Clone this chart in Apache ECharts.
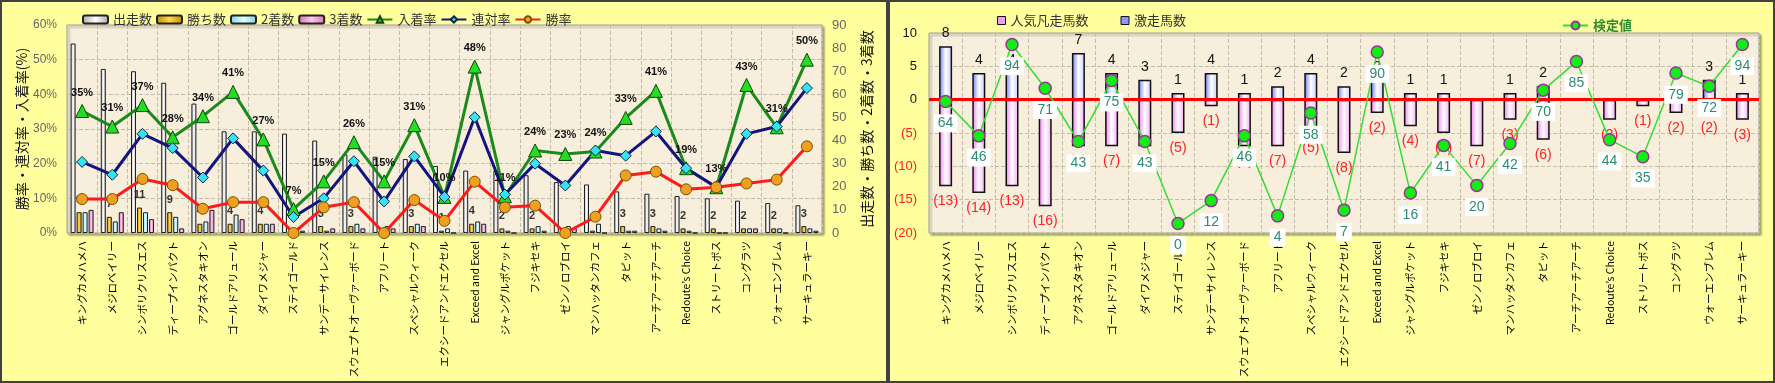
<!DOCTYPE html>
<html><head><meta charset="utf-8">
<script src="https://cdn.jsdelivr.net/npm/echarts@6/dist/echarts.min.js"></script>
<style>html,body{margin:0;padding:0;background:#ffff9e;}#c{width:1775px;height:383px;}</style>
</head><body><div id="c"></div>
<script>
var categories = ['キングカメハメハ','メジロベイリー','シンボリクリスエス','ディープインパクト','アグネスタキオン','ゴールドアリュール','ダイワメジャー','ステイゴールド','サンデーサイレンス','スウェプトオーヴァーボード','アフリート','スペシャルウィーク','エクシードアンドエクセル','Exceed and Excel','ジャングルポケット','フジキセキ','ゼンノロブロイ','マンハッタンカフェ','タピット','アーチアーチアーチ','Redoute’s Choice','ストリートボス','コングラツ','ウォーエンブレム','サーキュラーキー'];

// left chart: counts
var runs   = [82, 71, 70, 65, 56, 44, 44, 43, 40, 34, 33, 32, 29, 27, 27, 25, 22, 21, 18, 17, 16, 15, 14, 13, 12];
var wins   = [9, 7, 11, 9, 4, 4, 4, 0, 3, 3, 0, 3, 1, 4, 2, 2, 0, 1, 3, 3, 2, 2, 2, 2, 3];
var second = [9, 5, 9, 7, 5, 8, 4, 2, 1, 4, 3, 4, 2, 5, 1, 3, 3, 4, 1, 2, 1, 0, 2, 2, 2];
var third  = [10, 9, 6, 2, 10, 6, 4, 1, 2, 2, 2, 3, 0, 4, 0, 1, 2, 0, 1, 1, 0, 0, 2, 0, 1];
// left chart: rates (%)
var winRate    = [9.8, 9.8, 15.6, 13.8, 7.0, 8.9, 8.9, 0, 7.4, 8.9, 0, 9.5, 3.5, 14.8, 7.4, 7.9, 0, 4.7, 16.6, 17.7, 12.6, 13.2, 14.3, 15.4, 25.0];
var rentaiRate = [20.5, 16.8, 28.6, 24.5, 16.0, 27.3, 18.0, 4.6, 10.0, 20.7, 9.1, 22.1, 10.4, 33.4, 11.1, 20.0, 13.7, 23.8, 22.3, 29.3, 18.7, 13.2, 28.6, 30.7, 41.8];
var placeRate  = [35.2, 30.7, 36.9, 27.6, 33.7, 40.7, 27.0, 6.9, 14.9, 26.2, 14.9, 31.1, 10.4, 48.0, 10.6, 23.8, 22.8, 23.5, 33.2, 41.0, 18.7, 13.2, 42.7, 30.5, 50.0];

// right chart
var gekiso  = [8, 4, 4, 0, 7, 4, 3, 1, 4, 1, 2, 4, 2, 3, 1, 1, 0, 1, 2, 0, 0, 0, 0, 3, 1];
var bonso   = [-13, -14, -13, -16, -7, -7, -7, -5, -1, -7, -7, -5, -8, -2, -4, -5, -7, -3, -6, 0, -3, -1, -2, -2, -3];
var kentei  = [64, 46, 94, 71, 43, 75, 43, 0, 12, 46, 4, 58, 7, 90, 16, 41, 20, 42, 70, 85, 44, 35, 79, 72, 94];

var leftTicksPct = {min: 0, max: 60, interval: 10};
var rightTicksCnt = {min: 0, max: 90, interval: 10};
var rTicks = {min: -20, max: 10, interval: 5};

function hg(edge, mid, edge2) {
  return {type: 'linear', x: 0, y: 0, x2: 1, y2: 0,
    colorStops: [{offset: 0, color: edge}, {offset: 0.5, color: mid}, {offset: 1, color: edge2 || edge}]};
}
var FONT = "'Liberation Sans', 'Noto Sans CJK JP', sans-serif";
var JP = "'Noto Sans CJK JP', sans-serif";
var chart = echarts.init(document.getElementById('c'), null, {renderer: 'canvas'});
var dash = {type: 'dashed', color: '#c4bcaa', width: 1};
var gridStyle = {show: true, containLabel: false, outerBoundsMode: 'none', backgroundColor: '#f7eedc', borderColor: '#9a9a9a', borderWidth: 1,
  shadowColor: 'rgba(0,0,0,0.35)', shadowBlur: 2, shadowOffsetX: 2, shadowOffsetY: 2};
var xLabel = {rotate: 90, interval: 0, color: '#000', fontSize: 10.5, margin: 8, fontFamily: JP};

var option = {
  animation: false,
  textStyle: {fontFamily: FONT},
  graphic: [
    {type: 'rect', shape: {x: 1, y: 1, width: 886, height: 381}, style: {fill: '#ffff9e', stroke: '#404040', lineWidth: 2}, z: -10},
    {type: 'rect', shape: {x: 889, y: 1, width: 885, height: 381}, style: {fill: '#ffff9e', stroke: '#404040', lineWidth: 2}, z: -10}
  ],
  legend: [
    {data: ['出走数','勝ち数','2着数','3着数','入着率','連対率','勝率'], left: 77, top: 8, itemWidth: 25, itemHeight: 8, itemGap: 4,
      textStyle: {fontSize: 13, color: '#333', fontFamily: JP}},
    {data: [{name: '人気凡走馬数', itemStyle: {color: '#f09cf0', borderColor: '#111', borderWidth: 1}},
            {name: '激走馬数', itemStyle: {color: '#8a96ff', borderColor: '#111', borderWidth: 1}}],
      left: 992, top: 9, itemWidth: 8, itemHeight: 8, itemGap: 32, icon: 'rect',
      textStyle: {fontSize: 13, color: '#333', fontFamily: JP}},
    {data: ['検定値'], left: 1557, top: 14, itemWidth: 25, itemHeight: 10,
      textStyle: {fontSize: 13, color: '#2f8a2f', fontWeight: 'bold', fontFamily: JP}}
  ],
  grid: [
    Object.assign({left: 67, right: 953, top: 25, bottom: 150}, gridStyle),
    Object.assign({left: 929, right: 16, top: 33, bottom: 150}, gridStyle)
  ],
  xAxis: [
    {type: 'category', gridIndex: 0, data: categories, axisTick: {show: false}, axisLine: {show: false},
      axisLabel: xLabel, splitLine: {show: true, interval: 0, lineStyle: dash},
      name: 'BMS', nameLocation: 'middle', nameGap: 132, nameTextStyle: {color: '#777', fontSize: 12}},
    {type: 'category', gridIndex: 1, data: categories, axisTick: {show: false}, axisLine: {show: false},
      axisLabel: xLabel, splitLine: {show: true, interval: 0, lineStyle: dash},
      name: 'BMS', nameLocation: 'middle', nameGap: 133, nameTextStyle: {color: '#777', fontSize: 12}}
  ],
  yAxis: [
    {type: 'value', gridIndex: 0, min: leftTicksPct.min, max: leftTicksPct.max, interval: leftTicksPct.interval,
      axisLabel: {formatter: '{value}%', color: '#666', fontSize: 12, margin: 10}, axisLine: {show: false}, axisTick: {show: false},
      splitLine: {show: true, lineStyle: dash},
      name: '勝率・連対率・入着率(%)', nameLocation: 'middle', nameGap: 38, nameRotate: 90,
      nameTextStyle: {color: '#111', fontSize: 14, fontFamily: JP}},
    {type: 'value', gridIndex: 0, position: 'right', min: rightTicksCnt.min, max: rightTicksCnt.max, interval: rightTicksCnt.interval,
      axisLabel: {color: '#666', fontSize: 13, margin: 10}, axisLine: {show: false}, axisTick: {show: false}, splitLine: {show: false},
      name: '出走数・勝ち数・2着数・3着数', nameLocation: 'middle', nameGap: 38, nameRotate: 90,
      nameTextStyle: {color: '#111', fontSize: 14, fontFamily: JP}},
    {type: 'value', gridIndex: 1, min: rTicks.min, max: rTicks.max, interval: rTicks.interval,
      axisLine: {show: false}, axisTick: {show: false}, splitLine: {show: true, lineStyle: dash},
      axisLabel: {margin: 12, formatter: function (v) { return v < 0 ? '{r|(' + (-v) + ')}' : '{b|' + v + '}'; },
        rich: {r: {color: '#ff2020', fontSize: 13}, b: {color: '#111', fontSize: 13}}}},
    {type: 'value', gridIndex: 1, min: -5, max: 100, show: false, splitLine: {show: false}}
  ],
  series: [
    {name: '出走数', type: 'bar', xAxisIndex: 0, yAxisIndex: 1, data: runs, barWidth: 5, barGap: '20%',
      itemStyle: {color: hg('#a8a8a8', '#ffffff'), borderColor: '#222', borderWidth: 1}},
    {name: '勝ち数', type: 'bar', xAxisIndex: 0, yAxisIndex: 1, data: wins, barWidth: 5, barGap: '20%',
      itemStyle: {color: hg('#c48a00', '#ffd84a'), borderColor: '#222', borderWidth: 1},
      label: {show: true, position: 'top', distance: 7, fontSize: 11, fontWeight: 'bold', color: '#333',
        formatter: function (p) { return p.value > 0 ? p.value : ''; }}},
    {name: '2着数', type: 'bar', xAxisIndex: 0, yAxisIndex: 1, data: second, barWidth: 5, barGap: '20%',
      itemStyle: {color: hg('#7fd2e6', '#e4ffff'), borderColor: '#222', borderWidth: 1}},
    {name: '3着数', type: 'bar', xAxisIndex: 0, yAxisIndex: 1, data: third, barWidth: 5, barGap: '20%',
      itemStyle: {color: hg('#d870b8', '#ffc8ec'), borderColor: '#222', borderWidth: 1}},
    {name: '入着率', type: 'line', xAxisIndex: 0, yAxisIndex: 0, data: placeRate, z: 5,
      lineStyle: {color: '#1a8a1a', width: 3}, symbol: 'triangle', symbolSize: 13, showAllSymbol: true,
      itemStyle: {color: '#22dd22', borderColor: '#114411', borderWidth: 1},
      label: {show: true, position: 'top', distance: 6, fontSize: 11, fontWeight: 'bold', color: '#111',
        formatter: function (p) { return Math.round(p.value) + '%'; }}},
    {name: '連対率', type: 'line', xAxisIndex: 0, yAxisIndex: 0, data: rentaiRate, z: 5,
      lineStyle: {color: '#141480', width: 3}, symbol: 'diamond', symbolSize: 11,
      itemStyle: {color: '#33e4f2', borderColor: '#112244', borderWidth: 1}},
    {name: '勝率', type: 'line', xAxisIndex: 0, yAxisIndex: 0, data: winRate, z: 5,
      lineStyle: {color: '#ff1a1a', width: 3}, symbol: 'circle', symbolSize: 11,
      itemStyle: {color: '#f0a020', borderColor: '#7a5000', borderWidth: 1}},

    {name: '激走馬数', type: 'bar', xAxisIndex: 1, yAxisIndex: 2, data: gekiso, stack: 'r', barWidth: 13,
      itemStyle: {color: hg('#6a78ff', '#ffffff', '#c4cbff'), borderColor: '#111', borderWidth: 1.5},
      label: {show: true, position: 'top', distance: 6, fontSize: 14, color: '#111',
        formatter: function (p) { return p.value > 0 ? p.value : ''; }}},
    {name: '人気凡走馬数', type: 'bar', xAxisIndex: 1, yAxisIndex: 2, data: bonso, stack: 'r', barWidth: 13,
      itemStyle: {color: hg('#f07cf0', '#ffffff', '#f4a8f4'), borderColor: '#111', borderWidth: 1.5},
      label: {show: true, position: 'bottom', distance: 8, fontSize: 14, color: '#ff2020',
        formatter: function (p) { return p.value < 0 ? '(' + (-p.value) + ')' : ''; }},
      markLine: {silent: true, symbol: 'none', label: {show: false}, lineStyle: {color: '#ff0000', width: 3, type: 'solid'},
        data: [{yAxis: 0}]}},
    {name: '検定値', type: 'line', xAxisIndex: 1, yAxisIndex: 3, data: kentei, z: 6,
      lineStyle: {color: '#33dd33', width: 1.5}, symbol: 'circle', symbolSize: 12,
      itemStyle: {color: '#11ee11', borderColor: '#993399', borderWidth: 1.5},
      label: {show: true, position: 'bottom', distance: 6, fontSize: 14, color: '#2e8b70',
        backgroundColor: '#ffffff', padding: [2, 4]}}
  ]
};
chart.setOption(option);
</script></body></html>
